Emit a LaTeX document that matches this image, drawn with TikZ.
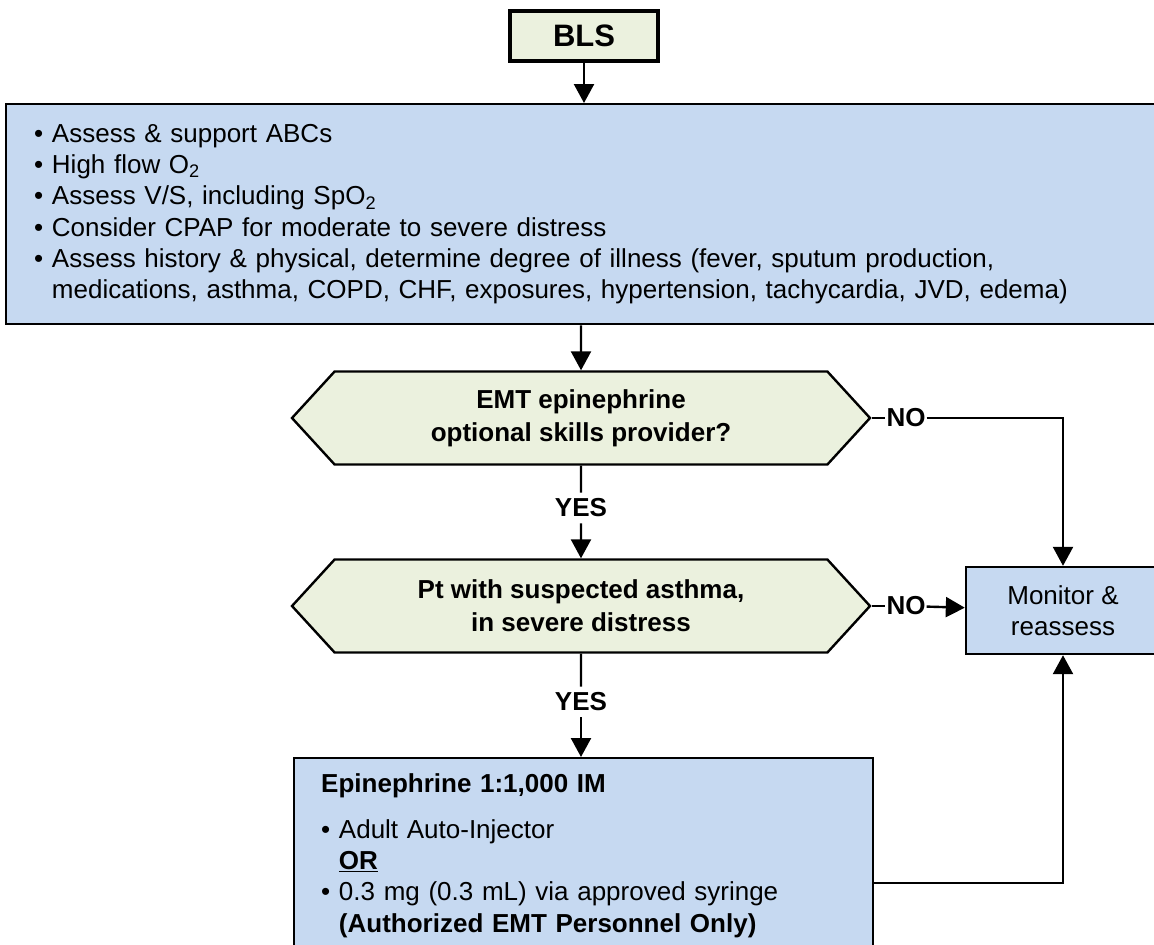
\documentclass[tikz,border=0pt]{standalone}
\usepackage{fontspec}
\setmainfont{Liberation Sans}
\usetikzlibrary{shapes.symbols,arrows.meta}
\definecolor{boxblue}{HTML}{C6D9F1}
\definecolor{boxgreen}{HTML}{EBF1DE}
\begin{document}
\begin{tikzpicture}[x=1pt, y=-1pt]
    % Define styles
    \tikzset{
        startbox/.style={draw, line width=4pt, fill=boxgreen, minimum width=148pt, minimum height=50pt, font=\fontsize{31}{36}\selectfont\bfseries},
        stepbox/.style={draw, line width=2.4pt, fill=boxblue, align=left, font=\fontsize{26}{31.3}\selectfont},
        decisionbox/.style={signal, signal to=east and west, signal pointer angle=95, draw, line width=2.4pt, fill=boxgreen, minimum width=578pt, minimum height=93pt, align=center, font=\fontsize{26}{33}\selectfont\bfseries},
        answer/.style={fill=white, inner xsep=1pt, inner ysep=6pt, font=\fontsize{26}{31}\selectfont\bfseries},
        flowline/.style={line width=2.4pt},
        flowarrow/.style={line width=2.4pt, -{Triangle[length=19pt, width=20pt]}}
    }
    \useasboundingbox (0,0) rectangle (1154,945);
    \clip (0,0) rectangle (1154,945);

    % Start
    \node[startbox] (bls) at (584,36) {BLS};

    % Initial assessment
    \node[stepbox, anchor=north west, text width=1104pt, inner xsep=28pt, minimum height=220pt] (assess) at (5,103) {%
        \textbullet\ Assess \& support ABCs\\
        \textbullet\ High flow O\textsubscript{2}\\
        \textbullet\ Assess V/S, including SpO\textsubscript{2}\\
        \textbullet\ Consider CPAP for moderate to severe distress\\
        \textbullet\ Assess history \& physical, determine degree of illness (fever, sputum production,\\
        \phantom{\textbullet\ }medications, asthma, COPD, CHF, exposures, hypertension, tachycardia, JVD, edema)};

    % Decisions
    \node[decisionbox] (epiq) at (581,418) {EMT epinephrine\\optional skills provider?};
    \node[decisionbox] (asthq) at (581,606) {Pt with suspected asthma,\\in severe distress};

    % Outcomes
    \node[stepbox, align=center, minimum width=194pt, minimum height=87pt] (monitor) at (1063,610.5) {Monitor \&\\reassess};
    \node[stepbox, anchor=north west, text width=525pt, inner xsep=27pt, inner ysep=15pt] (epibox) at (293,757) {%
        \textbf{Epinephrine 1:1,000 IM}\\[15pt]
        \textbullet\ Adult Auto-Injector\\
        \phantom{\textbullet\ }\underline{\textbf{OR}}\\
        \textbullet\ 0.3 mg (0.3 mL) via approved syringe\\
        \phantom{\textbullet\ }\textbf{(Authorized EMT Personnel Only)}};
    \coordinate (epiout) at (872,883);

    % Answer labels
    \node[answer] (no1) at (906,418) {NO};
    \node[answer] (no2) at (906,606) {NO};
    \node[answer] (yes1) at (581,508) {YES};
    \node[answer] (yes2) at (581,702) {YES};

    % Connectors
    \draw[flowarrow] (bls) -- (bls |- assess.north);
    \draw[flowarrow] (epiq.north |- assess.south) -- (epiq);
    \draw[flowline] (epiq) -- (yes1);
    \draw[flowarrow] (yes1) -- (asthq);
    \draw[flowline] (asthq) -- (yes2);
    \draw[flowarrow] (yes2) -- (yes2 |- epibox.north);
    \draw[flowline] (epiq.east) -- (no1);
    \draw[flowarrow] (no1) -| (monitor);
    \draw[flowline] (asthq.east) -- (no2);
    \draw[flowarrow] (no2) -- (monitor);
    \draw[flowarrow] (epiout) -| (monitor);
\end{tikzpicture}
\end{document}
